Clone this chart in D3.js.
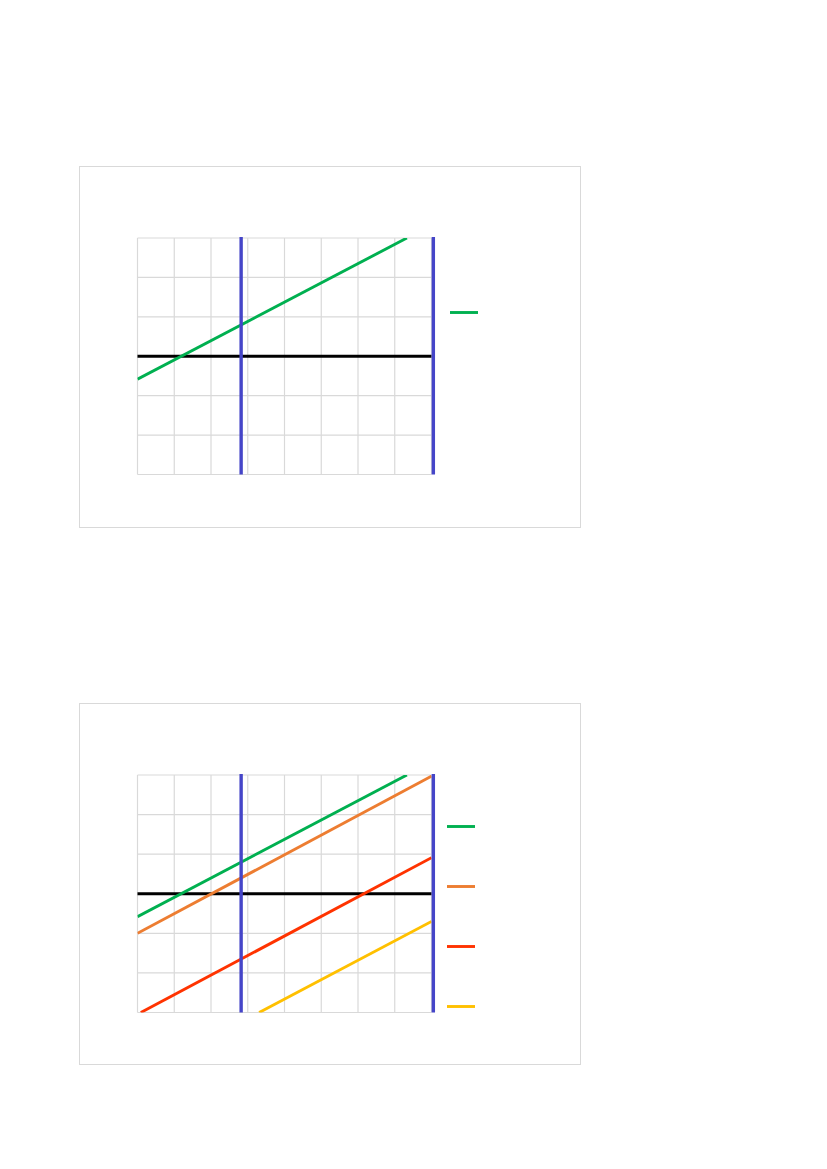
<!DOCTYPE html>
<html>
<head>
<meta charset="utf-8">
<script src="https://cdn.jsdelivr.net/npm/d3@7"></script>
<style>
  body { margin: 0; background: #fff; }
  svg { display: block; }
</style>
</head>
<body>
<div id="chart"></div>
<script>
// Values (x: 0..8, y: -3..3)
const xTicks = [0, 1, 2, 3, 4, 5, 6, 7, 8]
const yTicks = [-3, -2, -1, 0, 1, 2, 3]
const markerX = [2.82, 8.05]

const seriesNames = ["green", "orange", "red", "yellow"]
const seriesColors = ["#00b050", "#ed7d31", "#ff3300", "#ffc000"]
const greenPoints = [[0, -0.58], [7.33, 3]]
const orangePoints = [[0, -1.0], [8, 2.97]]
const redPoints = [[0.09, -3], [8, 0.91]]
const yellowPoints = [[3.31, -3], [8, -0.70]]

// top chart shows only the green series, bottom chart all four
const topSeries = [greenPoints]
const bottomSeries = [greenPoints, orangePoints, redPoints, yellowPoints]

function drawChart(svg, id, top, plotHeight, series, legendX, legendYs) {
    const dimensions = {
        frameX: 79.5,
        frameY: top,
        frameWidth: 501,
        frameHeight: 361,
        plotLeft: 137.5,
        plotWidth: 294,
        plotTop: top + 71.5,
        plotHeight
    }

    // Frame
    svg.append("rect")
        .attr("x", dimensions.frameX)
        .attr("y", dimensions.frameY)
        .attr("width", dimensions.frameWidth)
        .attr("height", dimensions.frameHeight)
        .attr("fill", "#fff")
        .attr("stroke", "#d9d9d9")

    const xScale = d3.scaleLinear()
        .domain([0, 8])
        .range([dimensions.plotLeft, dimensions.plotLeft + dimensions.plotWidth])

    const yScale = d3.scaleLinear()
        .domain([-3, 3])
        .range([dimensions.plotTop + dimensions.plotHeight, dimensions.plotTop])

    // Gridlines
    svg.append("g").selectAll("line")
        .data(xTicks)
        .join("line")
        .attr("x1", d => xScale(d))
        .attr("x2", d => xScale(d))
        .attr("y1", yScale(-3))
        .attr("y2", yScale(3))
        .attr("stroke", "#d9d9d9")
        .attr("stroke-width", 1.2)

    svg.append("g").selectAll("line")
        .data(yTicks)
        .join("line")
        .attr("x1", xScale(0))
        .attr("x2", xScale(8))
        .attr("y1", d => yScale(d))
        .attr("y2", d => yScale(d))
        .attr("stroke", "#d9d9d9")
        .attr("stroke-width", 1.2)

    // Clip for the series lines
    svg.append("clipPath")
        .attr("id", id)
        .append("rect")
        .attr("x", xScale(0))
        .attr("y", yScale(3))
        .attr("width", xScale(8) - xScale(0))
        .attr("height", yScale(-3) - yScale(3))

    // Zero line
    svg.append("line")
        .attr("x1", xScale(0))
        .attr("x2", xScale(8))
        .attr("y1", yScale(0))
        .attr("y2", yScale(0))
        .attr("stroke", "#000")
        .attr("stroke-width", 3)

    const lineGenerator = d3.line()
        .x(d => xScale(d[0]))
        .y(d => yScale(d[1]))

    svg.append("g")
        .attr("clip-path", `url(#${id})`)
        .selectAll("path")
        .data(series)
        .join("path")
        .attr("d", d => lineGenerator(d))
        .attr("fill", "none")
        .attr("stroke", (d, i) => seriesColors[i])
        .attr("stroke-width", 2.9)

    // Blue marker lines
    svg.append("g").selectAll("line")
        .data(markerX)
        .join("line")
        .attr("x1", d => xScale(d))
        .attr("x2", d => xScale(d))
        .attr("y1", yScale(3) - 1)
        .attr("y2", yScale(-3))
        .attr("stroke", "#4545c8")
        .attr("stroke-width", 3.4)

    // Legend (no labels in the reference)
    svg.append("g").selectAll("line")
        .data(series)
        .join("line")
        .attr("x1", legendX)
        .attr("x2", legendX + 28)
        .attr("y1", (d, i) => legendYs[i])
        .attr("y2", (d, i) => legendYs[i])
        .attr("stroke", (d, i) => seriesColors[i])
        .attr("stroke-width", 2.9)
}

const svg = d3.select("#chart").append("svg")
    .attr("width", 827)
    .attr("height", 1169)

drawChart(svg, "clip-top", 166.5, 236.5, topSeries, 450, [312.5])
drawChart(svg, "clip-bottom", 703.5, 237.5, bottomSeries, 447, [826.5, 886.5, 946.5, 1006.5])
</script>
</body>
</html>
